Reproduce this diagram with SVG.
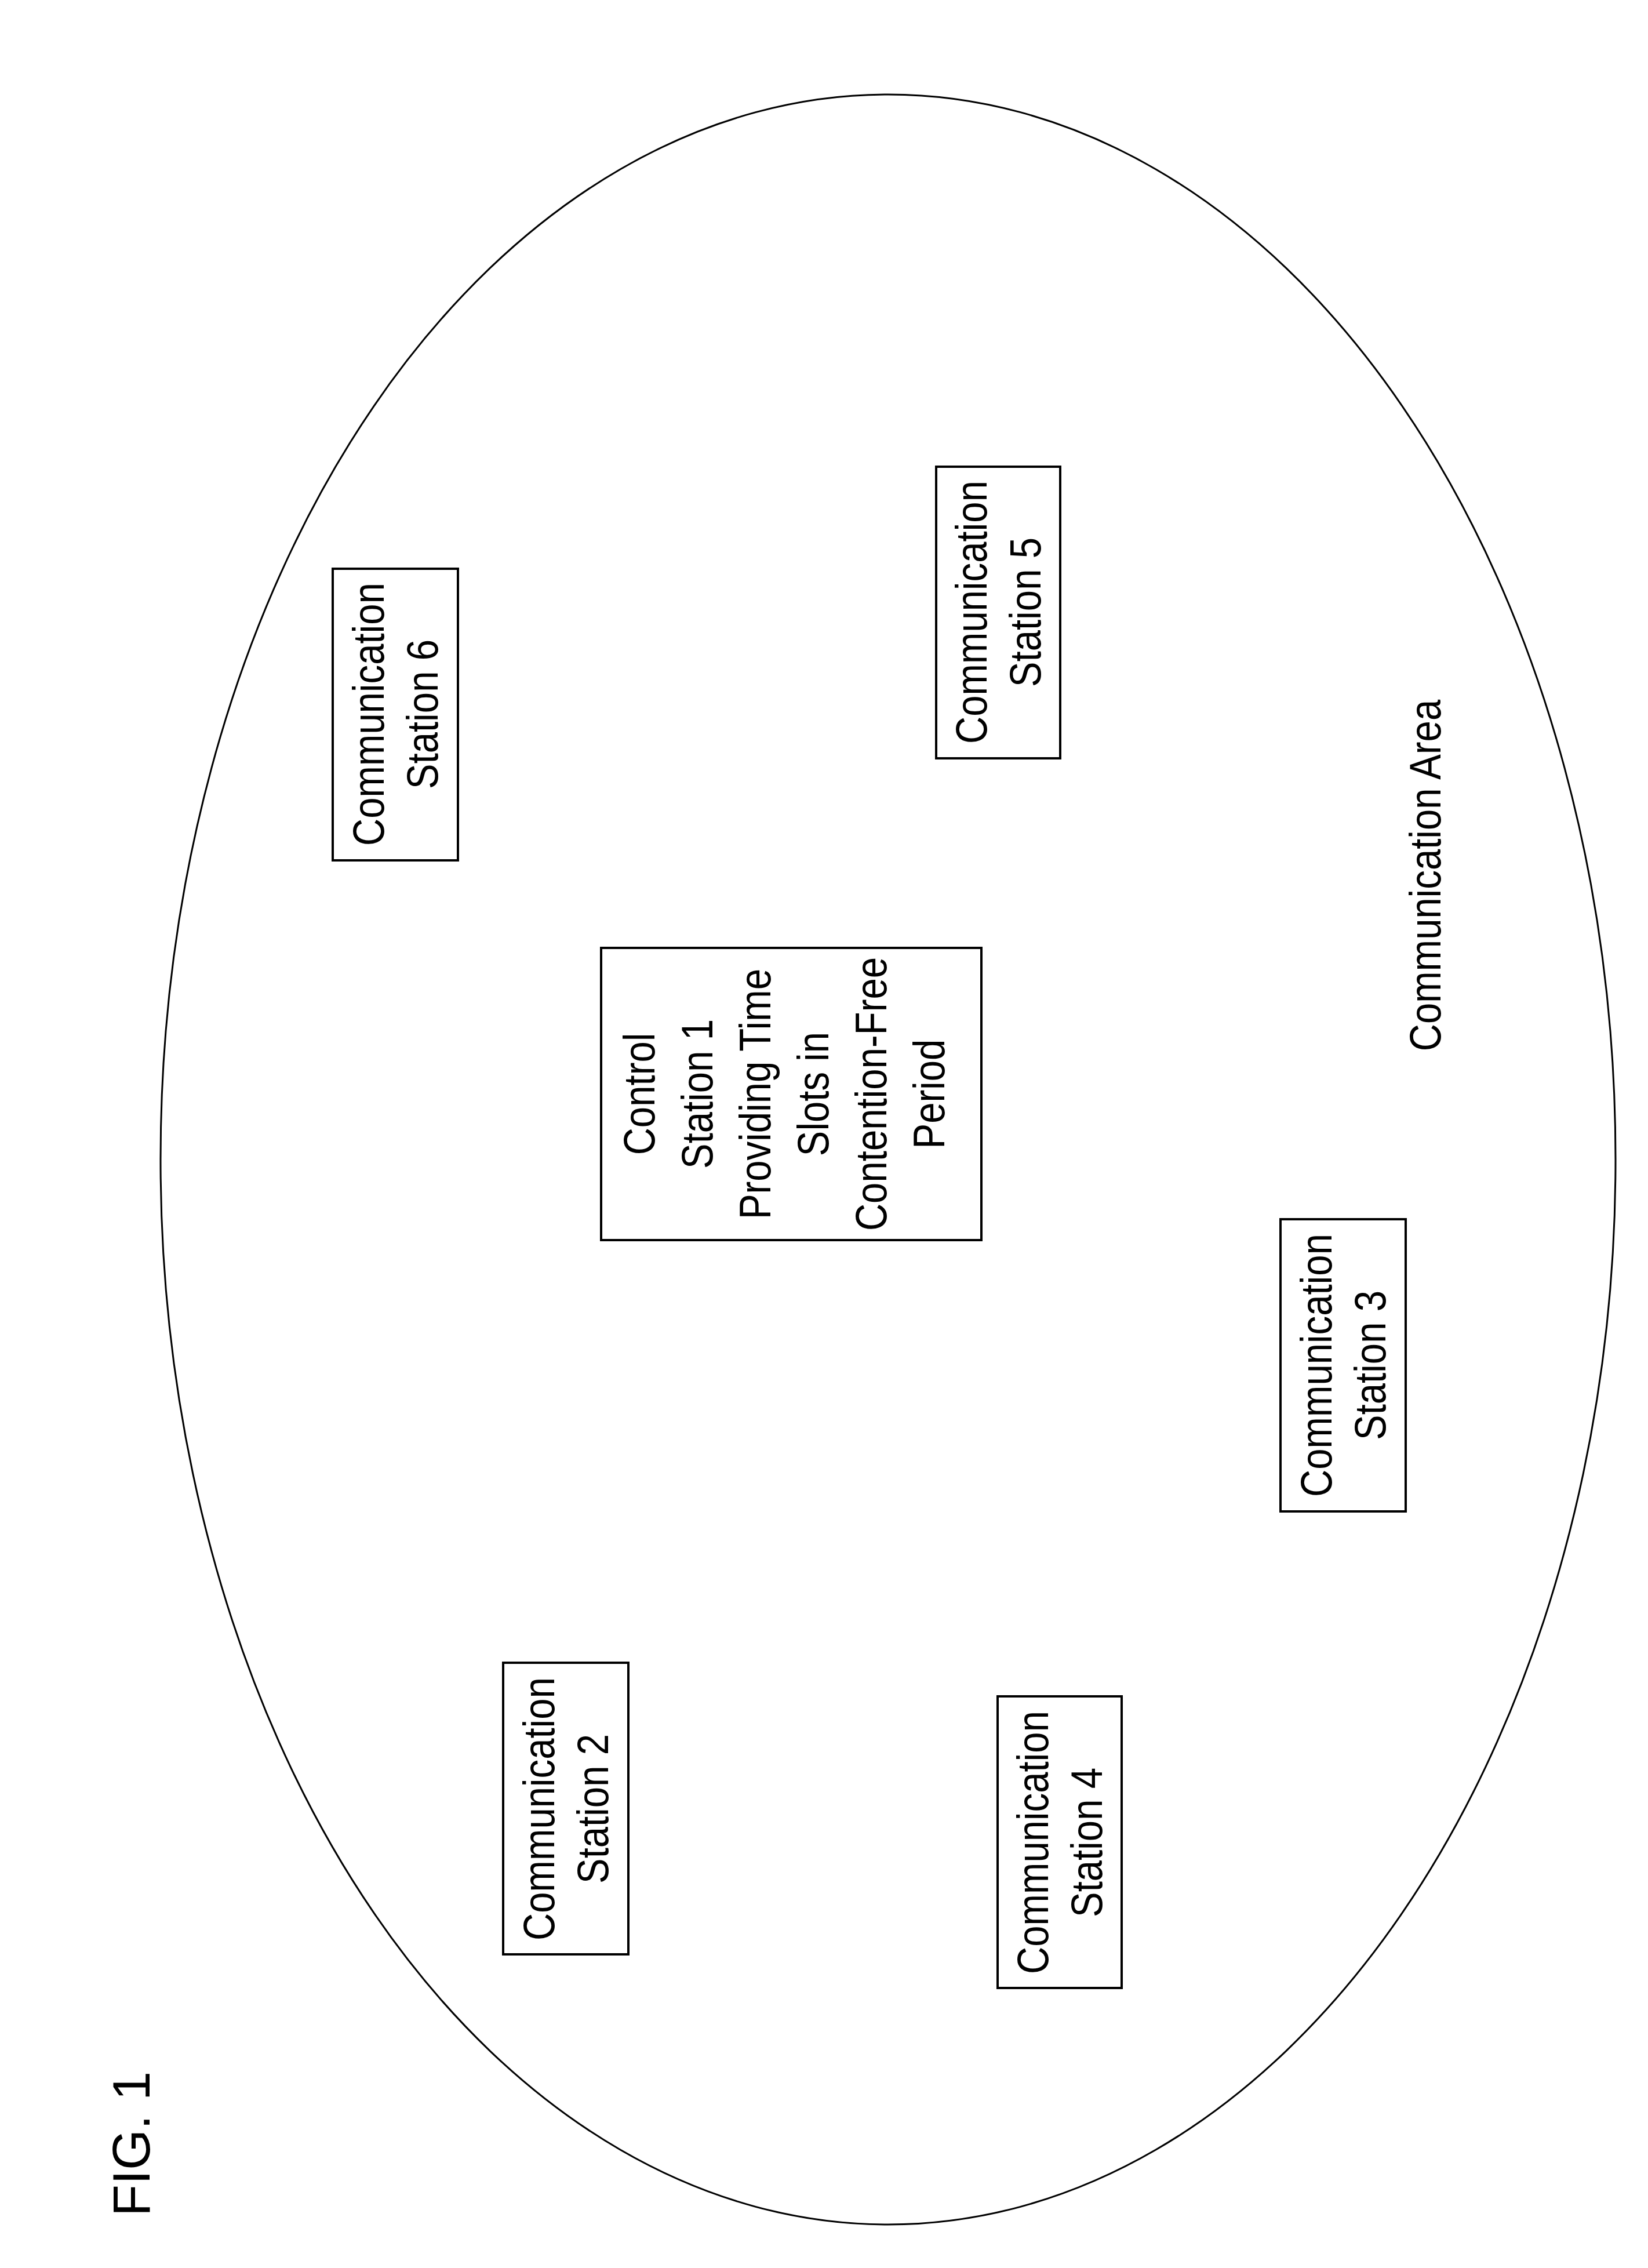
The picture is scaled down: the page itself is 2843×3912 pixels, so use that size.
<svg xmlns="http://www.w3.org/2000/svg" width="2843" height="3912" viewBox="0 0 2843 3912">
<style>
.b{fill:none;stroke:#000;stroke-width:4}
text{font-family:"Liberation Sans",Arial,sans-serif;font-size:76px;text-anchor:middle;fill:#000}
</style>
<rect width="2843" height="3912" fill="#fff"/>
<g id="area"><ellipse cx="1532" cy="2000" rx="1255" ry="1837" fill="none" stroke="#000" stroke-width="3"/>
<text transform="translate(2458,1510) rotate(-90) scale(0.86,1)" y="27">Communication Area</text></g>
<g id="fig"><text transform="translate(226,3698) rotate(-90)" y="32" style="font-size:90px">FIG. 1</text></g>
<g id="s6"><rect class="b" x="574" y="981" width="216" height="503"/>
<g transform="translate(682,1232) rotate(-90) scale(0.86,1)"><text y="-20">Communication</text><text y="73">Station 6</text></g></g>
<g id="s5"><rect class="b" x="1615" y="805" width="214" height="503"/>
<g transform="translate(1722,1056) rotate(-90) scale(0.86,1)"><text y="-20">Communication</text><text y="73">Station 5</text></g></g>
<g id="s1"><rect class="b" x="1037" y="1635" width="656" height="504"/>
<g transform="translate(1352,1887) rotate(-90) scale(0.86,1)"><text y="-223">Control</text><text y="-123">Station 1</text><text y="-23">Providing Time</text><text y="77">Slots in</text><text y="177">Contention-Free</text><text y="277">Period</text></g></g>
<g id="s3"><rect class="b" x="2209" y="2103" width="216" height="504"/>
<g transform="translate(2317,2355) rotate(-90) scale(0.86,1)"><text y="-20">Communication</text><text y="73">Station 3</text></g></g>
<g id="s2"><rect class="b" x="868" y="2868" width="216" height="503"/>
<g transform="translate(976,3120) rotate(-90) scale(0.86,1)"><text y="-20">Communication</text><text y="73">Station 2</text></g></g>
<g id="s4"><rect class="b" x="1721" y="2926" width="214" height="503"/>
<g transform="translate(1828,3178) rotate(-90) scale(0.86,1)"><text y="-20">Communication</text><text y="73">Station 4</text></g></g>
<g id="connectors"></g>
</svg>
